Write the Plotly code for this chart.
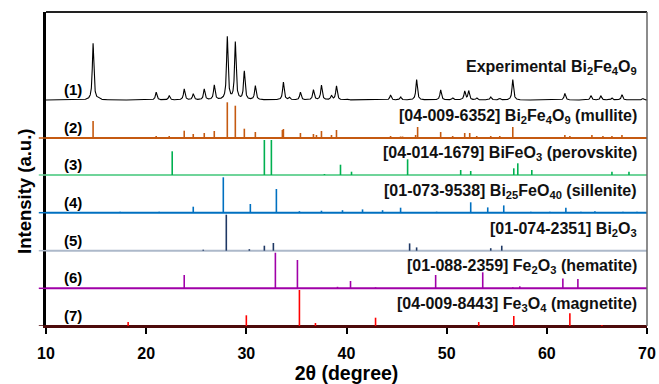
import numpy as np
import plotly.graph_objects as go

# ---------------- data ----------------
# Experimental Bi2Fe4O9 pattern: peak positions (2theta) and heights
exp_pos = [14.7, 15.2, 21.0, 22.3, 23.8, 24.7, 25.8, 26.8, 28.1, 28.9, 29.8, 30.9,
           33.7, 34.3, 35.4, 36.7, 37.5, 38.5, 39.0, 40.0, 44.4, 45.4, 47.0, 49.4,
           50.6, 51.8, 52.2, 53.0, 54.4, 55.3, 56.6, 61.8, 64.4, 65.4, 66.5, 67.5, 69.6]
exp_int = [56.7, 1.5, 7.7, 4.3, 11.0, 6.0, 10.7, 14.7, 62.7, 57.3, 28.3, 14.0,
           17.7, 2.3, 7.7, 10.0, 14.7, 4.3, 14.0, 1.0, 5.0, 3.0, 20.3, 10.0,
           2.0, 8.6, 9.0, 2.0, 3.0, 1.5, 20.3, 6.6, 4.3, 4.0, 2.0, 5.3, 1.5]

# (2) [04-009-6352] Bi2Fe4O9 (mullite)
mul_pos = [14.7, 21.0, 22.3, 23.8, 24.7, 25.8, 26.8, 28.1, 28.9, 29.8, 30.9, 33.6, 33.7,
           35.4, 36.7, 37.0, 37.5, 38.5, 39.0, 44.4, 45.4, 45.6, 46.9, 47.1, 49.4, 50.6,
           51.8, 52.3, 53.0, 54.4, 55.3, 56.6, 61.8, 62.3, 64.5, 65.6, 66.5, 67.5]
mul_int = [17.0, 2.0, 2.0, 7.3, 4.0, 5.0, 7.0, 35.7, 32.3, 9.3, 6.0, 8.0, 9.0,
           5.0, 4.0, 3.0, 7.0, 3.0, 8.0, 2.0, 1.5, 1.5, 3.0, 11.0, 6.0, 2.0,
           5.0, 5.0, 2.0, 2.0, 2.0, 11.0, 3.0, 2.0, 3.0, 2.0, 2.0, 3.0]

# (3) [04-014-1679] BiFeO3 (perovskite)
bfo_pos = [22.6, 31.8, 32.5, 37.8, 39.4, 40.5, 46.1, 51.4, 52.4, 56.7, 57.1, 58.5, 66.5, 68.2]
bfo_int = [23.7, 35.0, 35.0, 1.0, 10.3, 3.3, 15.7, 5.0, 4.0, 6.7, 11.7, 5.0, 3.3, 3.3]

# (4) [01-073-9538] Bi25FeO40 (sillenite)
sil_pos = [17.4, 21.3, 24.7, 27.7, 30.4, 33.0, 35.3, 37.5, 39.6, 41.6, 43.6, 45.4,
           49.0, 52.4, 54.1, 55.7, 58.4, 60.3, 61.9, 63.4, 64.8, 67.6, 69.0]
sil_int = [1.0, 1.0, 6.0, 35.4, 8.7, 23.7, 1.5, 2.0, 2.5, 3.3, 2.5, 5.0,
           1.0, 10.4, 5.3, 7.3, 1.0, 1.0, 5.0, 1.0, 1.5, 1.0, 1.0]

# (5) [01-074-2351] Bi2O3
bio_pos = [25.7, 28.0, 30.3, 31.8, 32.7, 46.3, 47.0, 54.4, 55.5]
bio_int = [1.0, 36.0, 1.5, 5.0, 7.7, 7.3, 3.3, 2.5, 5.0]

# (6) [01-088-2359] Fe2O3 (hematite)
hem_pos = [23.8, 32.9, 35.1, 39.1, 40.4, 42.9, 48.9, 53.6, 56.6, 57.3, 61.6, 63.1]
hem_int = [13.3, 35.6, 28.3, 1.5, 7.3, 1.0, 13.3, 16.0, 1.0, 2.0, 9.7, 9.3]

# (7) [04-009-8443] Fe3O4 (magnetite)
mag_pos = [18.2, 30.0, 35.3, 36.9, 42.9, 53.2, 56.7, 62.3, 65.5]
mag_int = [4.0, 10.7, 36.0, 3.0, 8.3, 4.0, 10.0, 12.7, 1.0]

panel_tags = ["(1)", "(2)", "(3)", "(4)", "(5)", "(6)", "(7)"]
panel_names = [
    "Experimental Bi<sub>2</sub>Fe<sub>4</sub>O<sub>9</sub>",
    "[04-009-6352] Bi<sub>2</sub>Fe<sub>4</sub>O<sub>9</sub> (mullite)",
    "[04-014-1679] BiFeO<sub>3</sub> (perovskite)",
    "[01-073-9538] Bi<sub>25</sub>FeO<sub>40</sub> (sillenite)",
    "[01-074-2351] Bi<sub>2</sub>O<sub>3</sub>",
    "[01-088-2359] Fe<sub>2</sub>O<sub>3</sub> (hematite)",
    "[04-009-8443] Fe<sub>3</sub>O<sub>4</sub> (magnetite)",
]
x_ticks = [10, 20, 30, 40, 50, 60, 70]
x_title = "2θ (degree)"
y_title = "Intensity (a.u.)"

# ---------------- layout / style constants ----------------
offsets = [226, 188, 151, 113.3, 75.3, 37.7, 0]
stick_colors = ["#000000", "#c55a11", "#00b050", "#0070c0", "#1f3864", "#a000a8", "#ff0000"]
base_colors = ["#000000", "#c55a11", "#6fd49a", "#0070c0", "#adb9ca", "#a000a8", "#4d0a0a"]
FONT = "Arial, Liberation Sans, sans-serif"

fig = go.Figure()

# Experimental profile built from the read peak list (narrow peak profile)
two_theta = np.arange(10.0, 70.001, 0.01)
hw = 0.09
profile = np.zeros_like(two_theta)
for p, h in zip(exp_pos, exp_int):
    profile += h / (1 + ((two_theta - p) / hw) ** 2)
fig.add_trace(go.Scatter(x=two_theta, y=profile + offsets[0], mode="lines",
                         line=dict(color="#000000", width=1.1), hoverinfo="skip"))


def sticks(pos, inten, base):
    xs, ys = [], []
    for p, h in zip(pos, inten):
        xs += [p, p, None]
        ys += [base, base + h, None]
    return xs, ys


refs = [(mul_pos, mul_int), (bfo_pos, bfo_int), (sil_pos, sil_int), (bio_pos, bio_int),
        (hem_pos, hem_int), (mag_pos, mag_int)]
for i, (pp, ii) in enumerate(refs, start=1):
    # baseline
    fig.add_trace(go.Scatter(x=[10, 70], y=[offsets[i], offsets[i]], mode="lines",
                             line=dict(color=base_colors[i], width=2), hoverinfo="skip"))
    xs, ys = sticks(pp, ii, offsets[i])
    fig.add_trace(go.Scatter(x=xs, y=ys, mode="lines",
                             line=dict(color=stick_colors[i], width=1.6), hoverinfo="skip"))

# labels
for i in range(7):
    fig.add_annotation(x=12.7, y=offsets[i] + 10.5, text="<b>%s</b>" % panel_tags[i],
                       showarrow=False, font=dict(family=FONT, size=15, color="#000000"),
                       xanchor="center", yanchor="middle")
    fig.add_annotation(x=69.2, y=offsets[i] + (33 if i == 0 else 21.5),
                       text="<b>%s</b>" % panel_names[i], showarrow=False,
                       font=dict(family=FONT, size=16, color="#111111"),
                       xanchor="right", yanchor="middle")

# y-axis title (placed slightly below the axis centre, as in the reference)
fig.add_annotation(xref="paper", yref="paper", x=-0.035, y=0.43, text="<b>%s</b>" % y_title,
                   textangle=-90, showarrow=False, xanchor="center", yanchor="middle",
                   font=dict(family=FONT, size=18.5, color="#000000"))

# small baseline stubs left of the y axis
for i in range(1, 7):
    fig.add_shape(type="line", xref="paper", yref="y", x0=-0.012, x1=0, y0=offsets[i],
                  y1=offsets[i], line=dict(color=base_colors[i], width=1.5))

# top and right frame
fig.add_shape(type="line", xref="paper", yref="paper", x0=0, x1=1, y0=1, y1=1,
              line=dict(color="#222222", width=2))
fig.add_shape(type="line", xref="paper", yref="paper", x0=1, x1=1, y0=0, y1=1,
              line=dict(color="#666666", width=1.5))

fig.update_layout(
    width=659, height=384,
    margin=dict(l=46, r=12, t=12, b=58, autoexpand=False),
    plot_bgcolor="white", paper_bgcolor="white",
    showlegend=False,
    xaxis=dict(range=[10, 70], tickvals=x_ticks, ticktext=[str(t) for t in x_ticks],
               automargin=False,
               showgrid=False, zeroline=False, showline=True, linecolor="#4d0a0a",
               linewidth=2, ticks="outside", ticklen=6, tickwidth=1.5, tickcolor="#000000",
               ticklabelstandoff=6,
               tickfont=dict(family=FONT, size=16, color="#000000", weight="bold"),
               title=dict(text="<b>%s</b>" % x_title, standoff=2,
                          font=dict(family=FONT, size=19.5, color="#000000"))),
    yaxis=dict(range=[0, 314], showticklabels=False, showgrid=False, zeroline=False,
               automargin=False,
               showline=True, linecolor="#000000", linewidth=2.5, ticks=""),
)

fig.write_html(
    "out.html",
    config={"displayModeBar": False},
    post_script=("document.body.style.margin='0';"
                 "document.body.style.overflow='hidden';"
                 "document.documentElement.style.overflow='hidden';"),
)
